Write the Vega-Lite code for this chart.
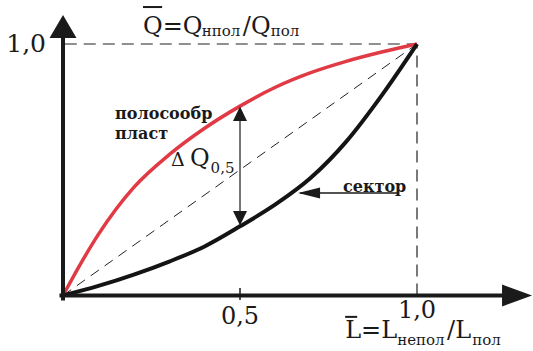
{
  "$schema": "https://vega.github.io/schema/vega-lite/v6.json",
  "width": 533,
  "height": 351,
  "autosize": {"type": "none"},
  "padding": 0,
  "background": "white",
  "config": {"view": {"stroke": null}},
  "datasets": {
    "polosa": [
      {"x": 0, "y": 0},
      {"x": 0.05, "y": 0.127},
      {"x": 0.1, "y": 0.243},
      {"x": 0.2, "y": 0.43},
      {"x": 0.3, "y": 0.56},
      {"x": 0.4, "y": 0.665},
      {"x": 0.5, "y": 0.753},
      {"x": 0.6, "y": 0.828},
      {"x": 0.7, "y": 0.886},
      {"x": 0.8, "y": 0.931},
      {"x": 0.9, "y": 0.968},
      {"x": 1, "y": 1}
    ],
    "sektor": [
      {"x": 0, "y": 0},
      {"x": 0.1, "y": 0.038},
      {"x": 0.2, "y": 0.083},
      {"x": 0.3, "y": 0.135},
      {"x": 0.4, "y": 0.195},
      {"x": 0.5, "y": 0.275},
      {"x": 0.6, "y": 0.362},
      {"x": 0.7, "y": 0.468},
      {"x": 0.8, "y": 0.612},
      {"x": 0.9, "y": 0.795},
      {"x": 1, "y": 1}
    ]
  },
  "encoding": {
    "x": {"field": "x", "type": "quantitative", "scale": {"domain": [-0.178, 1.3277], "nice": false, "zero": false}, "axis": null},
    "y": {"field": "y", "type": "quantitative", "scale": {"domain": [-0.2207, 1.175], "nice": false, "zero": false}, "axis": null}
  },
  "layer": [
    {
      "data": {"values": [{"x": 0.005, "y": 1, "x2": 1, "y2": 1}, {"x": 1, "y": 0, "x2": 1, "y2": 1}]},
      "mark": {"type": "rule", "color": "#222", "strokeWidth": 1.2, "strokeDash": [12, 7]},
      "encoding": {"x2": {"field": "x2"}, "y2": {"field": "y2"}}
    },
    {
      "data": {"values": [{"x": 0, "y": 0, "x2": 1, "y2": 1}]},
      "mark": {"type": "rule", "color": "#222", "strokeWidth": 1, "strokeDash": [10, 7]},
      "encoding": {"x2": {"field": "x2"}, "y2": {"field": "y2"}}
    },
    {
      "data": {"name": "polosa"},
      "mark": {"type": "line", "interpolate": "monotone", "color": "#e03a45", "strokeWidth": 3.5}
    },
    {
      "data": {"name": "sektor"},
      "mark": {"type": "line", "interpolate": "monotone", "color": "#141414", "strokeWidth": 4}
    },
    {
      "data": {"values": [{"x": -0.01, "y": 0, "x2": 1.29, "y2": 0}, {"x": 0, "y": -0.02, "x2": 0, "y2": 1.05}]},
      "mark": {"type": "rule", "color": "#1a1a1a", "strokeWidth": 4},
      "encoding": {"x2": {"field": "x2"}, "y2": {"field": "y2"}}
    },
    {
      "data": {"values": [{"x": 0, "y": 1.115}]},
      "mark": {"type": "point", "shape": "M0,0L1,1.7L-1,1.7Z", "size": 729, "filled": true, "color": "#1a1a1a", "opacity": 1}
    },
    {
      "data": {"values": [{"x": 1.325, "y": 0}]},
      "mark": {"type": "point", "shape": "M0,0L-2,-0.73L-2,0.73Z", "size": 900, "filled": true, "color": "#1a1a1a", "opacity": 1}
    },
    {
      "data": {"values": [{"x": 0.5, "y": -0.018, "x2": 0.5, "y2": 0.03}]},
      "mark": {"type": "rule", "color": "#1a1a1a", "strokeWidth": 1.5},
      "encoding": {"x2": {"field": "x2"}, "y2": {"field": "y2"}}
    },
    {
      "data": {"values": [{"x": 0.5, "y": 0.3, "x2": 0.5, "y2": 0.74}]},
      "mark": {"type": "rule", "color": "#1a1a1a", "strokeWidth": 1.2},
      "encoding": {"x2": {"field": "x2"}, "y2": {"field": "y2"}}
    },
    {
      "data": {"values": [{"x": 0.5, "y": 0.752}]},
      "mark": {"type": "point", "shape": "M0,0L1,2.1L-1,2.1Z", "size": 196, "filled": true, "color": "#1a1a1a", "opacity": 1}
    },
    {
      "data": {"values": [{"x": 0.5, "y": 0.278}]},
      "mark": {"type": "point", "shape": "M0,0L1,-2.1L-1,-2.1Z", "size": 196, "filled": true, "color": "#1a1a1a", "opacity": 1}
    },
    {
      "data": {"values": [{"x": 0.67, "y": 0.4076, "x2": 0.946, "y2": 0.4076}]},
      "mark": {"type": "rule", "color": "#1a1a1a", "strokeWidth": 1.5},
      "encoding": {"x2": {"field": "x2"}, "y2": {"field": "y2"}}
    },
    {
      "data": {"values": [{"x": 0.664, "y": 0.4076}]},
      "mark": {"type": "point", "shape": "M0,0L2,-0.5L2,0.5Z", "size": 484, "filled": true, "color": "#1a1a1a", "opacity": 1}
    },
    {
      "data": {"values": [{"x": 0.226, "y": 1.147, "x2": 0.28, "y2": 1.147}, {"x": 0.797, "y": -0.085, "x2": 0.831, "y2": -0.085}]},
      "mark": {"type": "rule", "color": "#1a1a1a", "strokeWidth": 2},
      "encoding": {"x2": {"field": "x2"}, "y2": {"field": "y2"}}
    },
    {
      "data": {"values": [
        {"label": "Q=Q", "x": 0.226, "y": 1.04},
        {"label": "/Q", "x": 0.508, "y": 1.04},
        {"label": "L=L", "x": 0.797, "y": -0.169},
        {"label": "/L", "x": 1.085, "y": -0.169},
        {"label": "Q", "x": 0.359, "y": 0.515}
      ]},
      "mark": {"type": "text", "font": "DejaVu Serif", "fontSize": 24, "align": "left", "baseline": "alphabetic", "color": "#1a1a1a"},
      "encoding": {"text": {"field": "label"}}
    },
    {
      "data": {"values": [
        {"label": "0,5", "x": 0.5, "y": -0.115},
        {"label": "1,0", "x": 1.0, "y": -0.089}
      ]},
      "mark": {"type": "text", "font": "DejaVu Serif", "fontSize": 24, "align": "center", "baseline": "alphabetic", "color": "#1a1a1a"},
      "encoding": {"text": {"field": "label"}}
    },
    {
      "data": {"values": [{"label": "1,0", "x": -0.048, "y": 0.968}]},
      "mark": {"type": "text", "font": "DejaVu Serif", "fontSize": 25, "align": "right", "baseline": "alphabetic", "color": "#1a1a1a"},
      "encoding": {"text": {"field": "label"}}
    },
    {
      "data": {"values": [
        {"label": "нпол", "x": 0.392, "y": 1.03},
        {"label": "пол", "x": 0.587, "y": 1.03},
        {"label": "непол", "x": 0.944, "y": -0.197},
        {"label": "пол", "x": 1.156, "y": -0.197},
        {"label": "0,5", "x": 0.417, "y": 0.488}
      ]},
      "mark": {"type": "text", "font": "DejaVu Serif", "fontSize": 15, "align": "left", "baseline": "alphabetic", "color": "#1a1a1a"},
      "encoding": {"text": {"field": "label"}}
    },
    {
      "data": {"values": [{"label": "Δ", "x": 0.305, "y": 0.515}]},
      "mark": {"type": "text", "font": "DejaVu Serif", "fontSize": 19, "align": "left", "baseline": "alphabetic", "color": "#1a1a1a"},
      "encoding": {"text": {"field": "label"}}
    },
    {
      "data": {"values": [
        {"label": "полосообр", "x": 0.147, "y": 0.702},
        {"label": "пласт", "x": 0.147, "y": 0.622},
        {"label": "сектор", "x": 0.791, "y": 0.412}
      ]},
      "mark": {"type": "text", "font": "DejaVu Serif", "fontWeight": "bold", "fontSize": 16, "align": "left", "baseline": "alphabetic", "color": "#1a1a1a"},
      "encoding": {"text": {"field": "label"}}
    }
  ]
}
